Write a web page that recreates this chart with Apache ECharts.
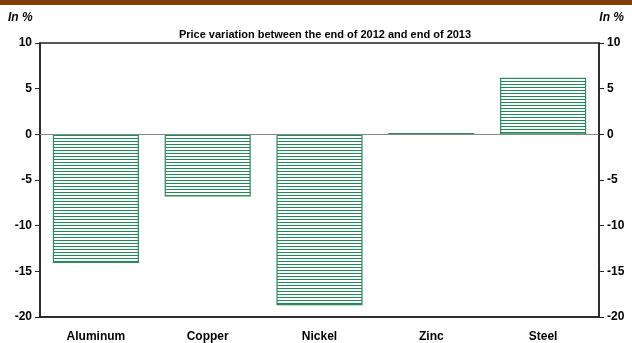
<!DOCTYPE html>
<html><head><meta charset="utf-8">
<script src="https://cdn.jsdelivr.net/npm/echarts@6/dist/echarts.min.js"></script>
<style>html,body{margin:0;padding:0;background:#fff}#c{width:632px;height:343px}</style>
</head><body><div id="c"></div>
<script>
const categories = ['Aluminum', 'Copper', 'Nickel', 'Zinc', 'Steel'];
const values = [-14.1, -6.8, -18.7, 0.15, 6.2];
const yTicks = [-20, -15, -10, -5, 0, 5, 10];

const pc = document.createElement('canvas');
pc.width = 4; pc.height = 3;
const ctx = pc.getContext('2d');
ctx.fillStyle = '#ffffff'; ctx.fillRect(0, 0, 4, 3);
ctx.fillStyle = '#1f8a55'; ctx.fillRect(0, 0, 4, 1);

const font = 'Liberation Sans, Arial, sans-serif';
const chart = echarts.init(document.getElementById('c'), null, {renderer: 'canvas'});
const yAxisBase = {
  type: 'value', min: yTicks[0], max: yTicks[yTicks.length - 1], interval: 5,
  splitLine: {show: false},
  axisLine: {show: true, lineStyle: {color: '#222', width: 1.5}},
  axisTick: {show: true, length: 5, lineStyle: {color: '#222'}},
  axisLabel: {color: '#000', fontWeight: 'bold', fontSize: 12, fontFamily: font, margin: 8}
};
chart.setOption({
  animation: false,
  graphic: [
    {type: 'rect', shape: {x: 0, y: 0, width: 632, height: 5}, style: {fill: '#7f3f00'}},
    {type: 'text', left: 8, top: 12, style: {text: 'In %', font: 'italic bold 12px ' + font, fill: '#000'}},
    {type: 'text', right: 8, top: 12, style: {text: 'In %', font: 'italic bold 12px ' + font, fill: '#000'}}
  ],
  title: {
    text: 'Price variation between the end of 2012 and end of 2013',
    left: 320, textAlign: 'center', top: 24,
    textStyle: {fontSize: 11, fontWeight: 'bold', fontFamily: font, color: '#000'}
  },
  grid: {left: 40, right: 33, top: 43, bottom: 25, show: true, borderColor: '#222', borderWidth: 1.5},
  xAxis: {
    type: 'category', data: categories,
    axisLine: {show: true, onZero: false, lineStyle: {color: '#222', width: 1.5}},
    axisTick: {show: false},
    axisLabel: {color: '#000', fontWeight: 'bold', fontSize: 12, fontFamily: font, margin: 14}
  },
  yAxis: [
    Object.assign({}, yAxisBase, {position: 'left'}),
    Object.assign({}, yAxisBase, {position: 'right'})
  ],
  series: [{
    type: 'bar', data: values, barCategoryGap: '23%',
    itemStyle: {color: {image: pc, repeat: 'repeat'}, borderColor: '#2e8b57', borderWidth: 1.2},
    markLine: {
      silent: true, symbol: 'none', label: {show: false},
      lineStyle: {color: '#888', type: 'solid', width: 1},
      data: [{yAxis: 0}]
    }
  }]
});
</script></body></html>
